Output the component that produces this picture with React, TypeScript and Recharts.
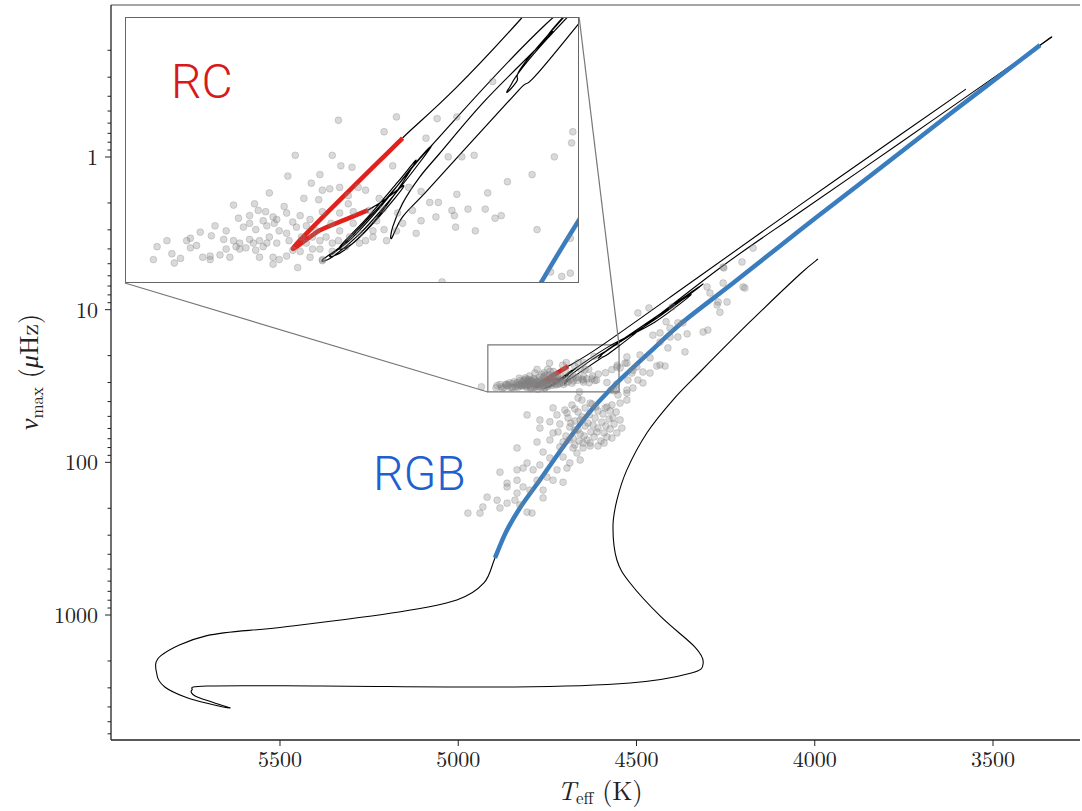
import React from 'react';
import { ComposedChart, Line, Scatter, XAxis, YAxis, ReferenceArea, ReferenceLine } from 'recharts';

type Pt = [number, number]; // [Teff (K), numax (muHz)]

// axis ticks
const X_TICKS = [5500, 5000, 4500, 4000, 3500];
const Y_MAJOR = [1, 10, 100, 1000];
const Y_MINOR = [
  0.2, 0.3, 0.4, 0.5, 0.6, 0.7, 0.8, 0.9,
  2, 3, 4, 5, 6, 7, 8, 9,
  20, 30, 40, 50, 60, 70, 80, 90,
  200, 300, 400, 500, 600, 700, 800, 900,
  2000, 3000, 4000, 5000, 6000,
];

// pre-main sequence, main sequence and subgiant part of the track
const PRE_RGB: Pt[] = [
  [3991, 4.66], [4041, 5.84], [4182, 12.04], [4322, 25.6], [4398, 39.1], [4471, 64.2],
  [4527, 112], [4555, 177], [4566, 265], [4555, 436], [4518, 617], [4431, 1030],
  [4336, 1622], [4313, 2062], [4346, 2399], [4518, 2788], [4842, 2961], [5382, 2917],
  [5705, 2917], [5747, 3098], [5738, 3392], [5691, 3715], [5640, 4065], [5696, 3828],
  [5766, 3445], [5823, 2961], [5845, 2472], [5834, 1847], [5705, 1365], [5489, 1198],
  [5166, 955], [5004, 798], [4928, 617], [4897, 423],
];

// red giant branch (blue)
const RGB: Pt[] = [
  [4897, 423], [4866, 286], [4827, 199], [4771, 130.6], [4720, 88.1], [4670, 61.0],
  [4620, 43.6], [4580, 34.6], [4540, 27.9], [4462, 18.9], [4370, 12.05], [4229, 6.69],
  [4041, 3.01], [3845, 1.33], [3621, 0.523], [3368, 0.185],
];
const RGB_TIP: Pt = [3335, 0.164];

// helium flash and sub-flashes, from the tip down to the clump
const HE_FLASH: Pt[] = [
  [3335, 0.164], [3480, 0.282], [3761, 0.81], [4041, 2.29], [4266, 5.33],
  [4551, 17.43], [4598, 20.68], [4641, 24.15], [4673, 27.13], [4692, 29.0], [4701, 30.72],
  [4700, 29.78], [4692, 27.97], [4678, 26.06], [4662, 24.48], [4625, 21.24], [4573, 17.86], [4563, 17.08],
  [4434, 10.67], [4313, 6.79], [4434, 11.0],
  [4576, 18.1], [4606, 20.59], [4600, 20.24], [4571, 17.63],
  [4350, 8.01], [4448, 12.04],
  [4577, 17.39], [4669, 24.01],
  [4691, 26.15], [4715, 28.63], [4739, 31.1], [4757, 32.54], [4749, 32.28], [4727, 30.37],
  [4701, 27.59], [4678, 25.06], [4669, 24.01],
  [4685, 25.46], [4708, 28.03], [4733, 30.69], [4751, 32.2], [4739, 31.68], [4717, 29.56],
  [4695, 26.85], [4681, 24.92],
  [4696, 26.43], [4721, 29.1], [4743, 31.43], [4733, 31.18], [4712, 29.1], [4691, 26.71],
  [4707, 27.74], [4720, 28.48],
];

// red clump (red)
const RC: Pt[] = [[4720, 28.48], [4738, 29.19], [4759, 30.05], [4778, 31.18], [4692, 23.49]];

// asymptotic giant branch
const AGB: Pt[] = [[4692, 23.49], [4596, 17.08], [4322, 6.02], [4041, 2.06], [3761, 0.718], [3576, 0.359]];

// stars inside the zoom box
const CLUMP_STARS: Pt[] = [
  [4744, 22.4], [4697, 22.2], [4664, 22.3], [4648, 22.2], [4619, 20.2], [4554, 23.1], [4555, 23.8],
  [4707, 23.1], [4673, 23.5], [4779, 24.6], [4749, 24.6], [4655, 24.7], [4644, 24.7], [4634, 24.6],
  [4569, 24.7], [4742, 25.3], [4733, 25.4], [4700, 25.3], [4785, 26.0], [4759, 25.9], [4587, 25.9],
  [4766, 26.5], [4757, 27.0], [4751, 26.9], [4743, 26.8], [4728, 26.8], [4722, 27.0], [4687, 26.8],
  [4677, 27.1], [4607, 26.4], [4800, 27.2], [4772, 27.6], [4736, 27.4], [4736, 28.0], [4760, 27.7],
  [4711, 27.6], [4648, 27.3], [4623, 27.2], [4663, 27.9], [4670, 27.9], [4829, 28.1], [4812, 28.0],
  [4803, 28.6], [4788, 28.2], [4825, 29.1], [4816, 28.9], [4805, 29.3], [4797, 29.0], [4796, 29.5],
  [4781, 29.4], [4775, 28.9], [4767, 29.2], [4757, 28.6], [4743, 28.7], [4732, 28.6], [4719, 28.5],
  [4713, 29.3], [4708, 28.4], [4696, 28.7], [4677, 29.3], [4652, 28.5], [4650, 28.9], [4639, 28.4],
  [4625, 28.4], [4617, 29.1], [4612, 28.9], [4844, 29.7], [4835, 30.1], [4821, 29.8], [4811, 30.0],
  [4802, 29.7], [4792, 30.1], [4786, 30.3], [4778, 29.8], [4770, 29.7], [4762, 30.1], [4750, 29.5],
  [4743, 30.1], [4727, 30.3], [4716, 30.1], [4707, 30.0], [4697, 30.1], [4681, 30.3], [4633, 30.1],
  [4583, 30.0], [4883, 30.9], [4864, 30.7], [4856, 30.2], [4847, 30.5], [4837, 30.8], [4829, 30.9],
  [4824, 31.1], [4816, 30.8], [4808, 30.9], [4800, 30.6], [4794, 31.1], [4784, 30.9], [4770, 31.1],
  [4759, 30.9], [4749, 31.1], [4735, 30.6], [4891, 31.4], [4879, 32.0], [4872, 32.4], [4864, 31.5],
  [4854, 32.3], [4848, 32.2], [4840, 32.1], [4832, 32.3], [4824, 31.6], [4819, 31.5], [4811, 31.7],
  [4805, 31.4], [4797, 32.3], [4792, 32.5], [4786, 32.2], [4775, 31.8], [4767, 32.3], [4759, 31.6],
  [4757, 32.5], [4749, 31.8], [4738, 31.4], [4894, 32.5], [4877, 32.8], [4848, 32.5], [4808, 32.3],
  [4797, 32.9], [4777, 33.2], [4757, 32.6], [4727, 31.1], [4572, 33.6], [4563, 34.0], [4556, 33.7],
  [4660, 34.5], [4556, 30.7], [4816, 29.5], [4809, 28.5], [4786, 28.7], [4794, 29.2], [4774, 30.6],
  [4765, 31.6], [4754, 30.6], [4744, 30.9], [4781, 31.7], [4802, 31.1], [4813, 31.1], [4827, 31.4],
  [4835, 31.6], [4859, 31.3], [4867, 30.9], [4765, 30.6], [4732, 29.5], [4722, 30.9], [4716, 30.6],
  [4705, 30.9], [4692, 29.5], [4684, 28.5], [4665, 29.0], [4649, 29.8],
];

// stars outside the zoom box
const FIELD_STARS: Pt[] = [
  [4935, 32.0], [4807, 48.9], [4734, 44.0], [4771, 52.8], [4743, 54.2], [4771, 59.6], [4734, 64.2],
  [4715, 79.3], [4762, 85.6], [4779, 73.6], [4835, 80.5], [4807, 101], [4743, 93.7], [4706, 92.3],
  [4678, 80.5], [4650, 74.7], [4630, 74.7], [4667, 86.9], [4658, 96.5], [4687, 101], [4723, 112],
  [4695, 109], [4771, 104], [4790, 112], [4818, 109], [4835, 112], [4883, 116], [4779, 131],
  [4751, 125], [4734, 131], [4706, 135], [4835, 131], [4863, 137], [4818, 145], [4762, 152],
  [4799, 152], [4835, 159], [4863, 145], [4841, 177], [4762, 171], [4919, 169], [4891, 177],
  [4863, 185], [4931, 196], [4883, 199], [4973, 215], [4939, 215], [4807, 212], [4793, 215],
  [4827, 190],
  [4701, 45.4], [4681, 42.1], [4664, 46.8], [4644, 44.0], [4625, 41.5], [4608, 46.1], [4588, 44.0],
  [4569, 42.1], [4557, 46.8], [4692, 51.2], [4673, 53.6], [4653, 50.4], [4636, 55.3], [4616, 51.2],
  [4597, 54.5], [4577, 52.0], [4563, 56.1], [4687, 58.7], [4664, 61.4], [4644, 57.8], [4628, 63.2],
  [4608, 59.6], [4591, 64.2], [4574, 60.5], [4555, 64.2], [4698, 67.2], [4678, 69.3], [4658, 65.2],
  [4639, 71.4], [4619, 68.2], [4600, 72.5], [4583, 68.2], [4673, 77.0], [4650, 80.5], [4630, 78.1],
  [4715, 56.1], [4723, 48.9], [4546, 52.8], [4541, 59.6], [4720, 63.2], [4706, 73.6], [4743, 71.4],
  [4695, 47.5], [4673, 44.7], [4633, 48.9], [4614, 43.4], [4594, 48.2], [4574, 46.1], [4684, 55.3],
  [4658, 52.8], [4622, 56.9], [4586, 57.8], [4566, 51.2], [4673, 61.4], [4647, 67.2], [4611, 63.2],
  [4569, 69.3], [4689, 71.4], [4661, 72.5], [4608, 78.1], [4591, 74.7],
  [4664, 37.9], [4653, 39.1], [4630, 40.9], [4552, 36.2], [4527, 35.2], [4527, 22.4], [4546, 24.1],
  [4510, 24.9], [4546, 40.9], [4527, 39.1], [4583, 43.4],
  [4496, 10.5], [4465, 9.75], [4400, 9.6], [4417, 12.0], [4406, 13.2], [4384, 12.2], [4370, 12.2],
  [4454, 14.7], [4434, 14.2], [4406, 15.1], [4384, 15.1], [4358, 14.4], [4434, 16.3], [4412, 17.8],
  [4364, 18.9], [4490, 19.8], [4462, 20.7], [4434, 23.0], [4443, 23.4], [4420, 23.4], [4527, 20.4],
  [4532, 22.4], [4499, 23.7], [4482, 25.6], [4513, 26.0], [4462, 26.0], [4496, 28.9], [4524, 28.9],
  [4313, 14.0], [4300, 13.6], [4294, 7.78], [4302, 7.1], [4274, 9.32], [4246, 8.91], [4266, 10.4],
  [4257, 5.26], [4257, 6.69], [4204, 4.87], [4201, 7.1], [4173, 3.95], [4527, 33.6], [4510, 32.6],
  [4482, 30.2], [4255, 5.33], [4196, 7.21], [4271, 8.91],
];

// axis ranges and the zoomed window
const X_DOMAIN = [3256, 5974];
const Y_DOMAIN = [0.101, 6588];
const ZOOM_X = [4549, 4917];
const ZOOM_Y = [17.0, 34.6];
// where the inset corners fall in main-axis units (for the connector lines)
const INSET_LOWER_LEFT = { x: 5935, y: 6.69 };
const INSET_UPPER_RIGHT = { x: 4661, y: 0.121 };

const SERIF = '"Latin Modern Roman", "CMU Serif", "Liberation Serif", serif';
const AXIS_COLOR = '#222';
const BLUE = '#3a7dbf';
const RED = '#e2211c';

// smooth curve through the points (Catmull-Rom as cubic beziers)
const smoothCurve = (context: any) => {
  let pts: number[][] = [];
  return {
    areaStart() {},
    areaEnd() {},
    lineStart() {
      pts = [];
    },
    point(x: number, y: number) {
      pts.push([+x, +y]);
    },
    lineEnd() {
      if (!pts.length) return;
      context.moveTo(pts[0][0], pts[0][1]);
      for (let i = 0; i < pts.length - 1; i++) {
        const p0 = pts[i - 1] || pts[i];
        const p1 = pts[i];
        const p2 = pts[i + 1];
        const p3 = pts[i + 2] || p2;
        context.bezierCurveTo(
          p1[0] + (p2[0] - p0[0]) / 6, p1[1] + (p2[1] - p0[1]) / 6,
          p2[0] - (p3[0] - p1[0]) / 6, p2[1] - (p3[1] - p1[1]) / 6,
          p2[0], p2[1],
        );
      }
    },
  };
};

const rows = (pts: Pt[]) => pts.map(([t, n]) => ({ t, n }));
const trackRows = rows([...PRE_RGB, ...RGB.slice(1), RGB_TIP]);
const rgbRows = rows(RGB);
const flashRows = rows(HE_FLASH);
const rcRows = rows(RC);
const agbRows = rows(AGB);
const starRows = rows([...CLUMP_STARS, ...FIELD_STARS]);

const StarDot = (p: any) => (
  <circle cx={p.cx} cy={p.cy} r={3.4} fill="#808080" fillOpacity={0.3} stroke="#808080" strokeOpacity={0.3} strokeWidth={1} />
);

const YTick = ({ x, y, payload }: any) => {
  const v = payload.value;
  const major = Y_MAJOR.includes(v);
  return (
    <g>
      <line x1={x} x2={x - (major ? 6 : 3.5)} y1={y} y2={y} stroke={AXIS_COLOR} strokeWidth={1} />
      {major && (
        <text x={x - 13} y={y} dy="0.36em" textAnchor="end" fontFamily={SERIF} fontSize={22} fill="#222">
          {v}
        </text>
      )}
    </g>
  );
};

const XTick = ({ x, y, payload }: any) => (
  <g>
    <line x1={x} x2={x} y1={y} y2={y + 6} stroke={AXIS_COLOR} strokeWidth={1} />
    <text x={x} y={y + 27} textAnchor="middle" fontFamily={SERIF} fontSize={22} fill="#222">
      {payload.value}
    </text>
  </g>
);

const trackLines = (w: number) => (
  <>
    <Line data={trackRows} dataKey="n" type={smoothCurve as any} stroke="#000" strokeWidth={w} dot={false} activeDot={false} isAnimationActive={false} />
    <Line data={flashRows} dataKey="n" type={smoothCurve as any} stroke="#000" strokeWidth={w} dot={false} activeDot={false} isAnimationActive={false} />
    <Line data={agbRows} dataKey="n" type={smoothCurve as any} stroke="#000" strokeWidth={w} dot={false} activeDot={false} isAnimationActive={false} />
    <Line data={rgbRows} dataKey="n" type={smoothCurve as any} stroke={BLUE} strokeWidth={4.5} dot={false} activeDot={false} isAnimationActive={false} />
    <Line data={rcRows} dataKey="n" type={smoothCurve as any} stroke={RED} strokeWidth={4.5} strokeLinejoin="round" dot={false} activeDot={false} isAnimationActive={false} />
  </>
);

export default function App() {
  return (
    <div style={{ position: 'absolute', left: 0, top: 0, width: 1082, height: 811, background: '#fff' }}>
      <ComposedChart width={1082} height={811} margin={{ top: 5, right: 2, bottom: 0, left: 11 }}>
        <XAxis
          type="number"
          dataKey="t"
          domain={X_DOMAIN}
          reversed
          allowDataOverflow
          ticks={X_TICKS}
          interval={0}
          height={71}
          tickSize={0}
          tickMargin={0}
          tick={(p: any) => <XTick {...p} />}
          axisLine={{ stroke: AXIS_COLOR, strokeWidth: 1.3 }}
        />
        <YAxis
          type="number"
          dataKey="n"
          scale="log"
          domain={Y_DOMAIN}
          reversed
          allowDataOverflow
          ticks={[...Y_MAJOR, ...Y_MINOR]}
          interval={0}
          width={100}
          tickSize={0}
          tickMargin={0}
          tick={(p: any) => <YTick {...p} />}
          axisLine={{ stroke: AXIS_COLOR, strokeWidth: 1.3 }}
        />
        <ReferenceLine y={Y_DOMAIN[0]} stroke="#888" strokeWidth={1.5} />
        <Scatter data={starRows} shape={StarDot} isAnimationActive={false} />
        {trackLines(1.1)}
        <ReferenceArea x1={ZOOM_X[0]} x2={ZOOM_X[1]} y1={ZOOM_Y[0]} y2={ZOOM_Y[1]} fill="none" stroke="#777" strokeWidth={1.2} />
        <ReferenceLine segment={[INSET_LOWER_LEFT, { x: ZOOM_X[1], y: ZOOM_Y[1] }]} stroke="#777" strokeWidth={1.2} />
        <ReferenceLine segment={[INSET_UPPER_RIGHT, { x: ZOOM_X[0], y: ZOOM_Y[0] }]} stroke="#777" strokeWidth={1.2} />
      </ComposedChart>

      <div style={{ position: 'absolute', left: 125, top: 17, width: 454, height: 266, background: '#fff' }}>
        <ComposedChart width={454} height={266} margin={{ top: 0, right: 0, bottom: 0, left: 0 }}>
          <XAxis type="number" dataKey="t" domain={ZOOM_X} reversed allowDataOverflow hide />
          <YAxis type="number" dataKey="n" scale="log" domain={ZOOM_Y} reversed allowDataOverflow hide />
          <Scatter data={starRows} shape={StarDot} isAnimationActive={false} />
          {trackLines(1.2)}
        </ComposedChart>
        <div style={{ position: 'absolute', inset: 0, border: '1.5px solid #666', pointerEvents: 'none' }} />
      </div>

      <svg width={1082} height={811} style={{ position: 'absolute', left: 0, top: 0, pointerEvents: 'none' }}>
        <text x={171} y={98} fontFamily="Roboto, sans-serif" fontWeight={300} fontSize={48} fill="#d7191c">RC</text>
        <text x={373} y={490} fontFamily="Roboto, sans-serif" fontWeight={300} fontSize={48} fill="#1f5fcf">RGB</text>
        <text transform="translate(38,372) rotate(-90)" textAnchor="middle" fontFamily={SERIF} fontSize={26} fill="#222">
          <tspan fontStyle="italic">ν</tspan>
          <tspan fontSize={17} dy={5}>max</tspan>
          <tspan dy={-5}> (</tspan>
          <tspan fontStyle="italic">μ</tspan>
          <tspan>Hz)</tspan>
        </text>
        <text x={600} y={800} textAnchor="middle" fontFamily={SERIF} fontSize={26} fill="#222">
          <tspan fontStyle="italic">T</tspan>
          <tspan fontSize={17} dy={4}>eff</tspan>
          <tspan dy={-4}> (K)</tspan>
        </text>
      </svg>
    </div>
  );
}
